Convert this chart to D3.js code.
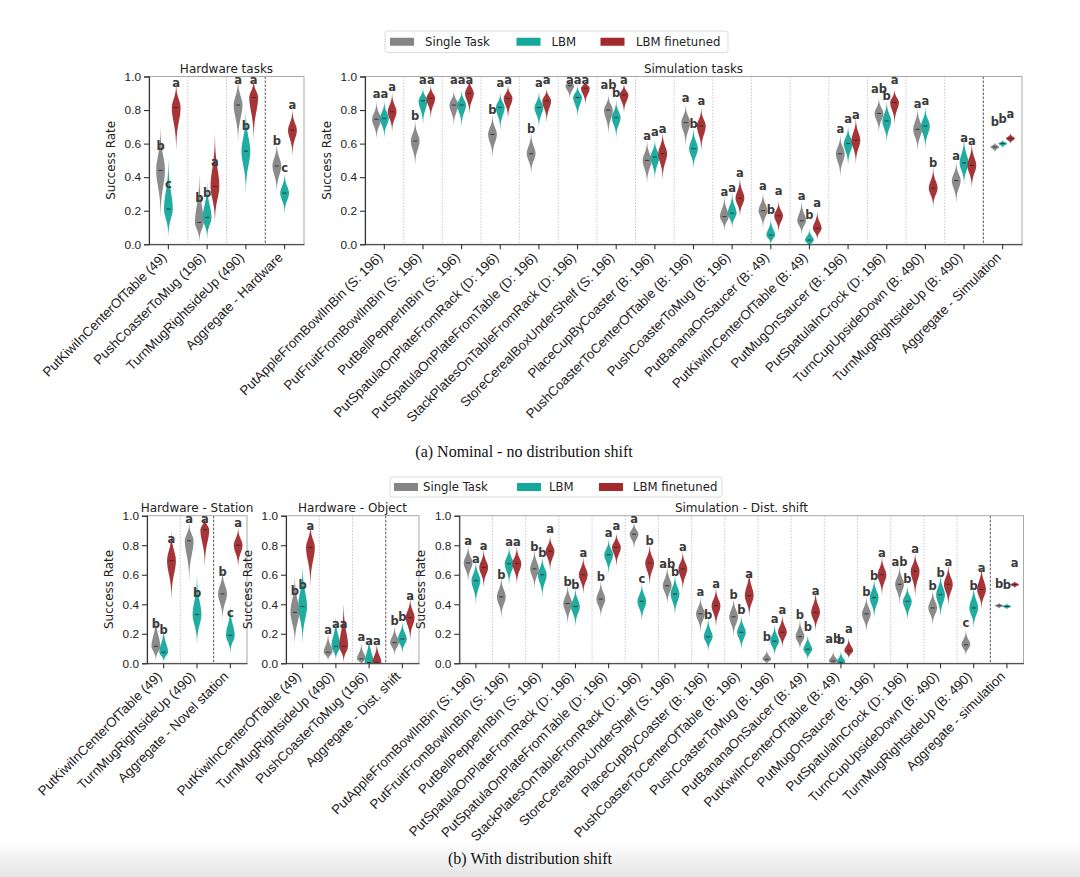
<!DOCTYPE html>
<html>
<head>
<meta charset="utf-8">
<script src="https://cdn.jsdelivr.net/npm/d3@7"></script>
<style>
  body { margin: 0; background: #fff; }
  svg { display: block; font-family: 'DejaVu Sans', sans-serif; }
  .axis .tick text { font-size: 11.8px; fill: #222; }
  .axis .tick text.xlab { font-size: 13.3px; fill: #222; }
  .axis path, .axis line { stroke: #333; stroke-width: 1.1; }
  .ylab { font-size: 11.9px; fill: #222; }
  .ptitle { font-size: 12px; fill: #222; }
  .letter { font-size: 11.5px; font-weight: bold; fill: #3a3a3a; }
  .leg { font-size: 11.7px; fill: #222; }
  .caption { font-family: 'Liberation Serif', serif; font-size: 16px; fill: #111; }
</style>
</head>
<body>
<svg id="chart"></svg>
<script>
const methods = ['Single Task', 'LBM', 'LBM finetuned']
const colors = ['#858585', '#14a89b', '#a2292c']

// (a) nominal - hardware
const nomHwTasks = ['PutKiwiInCenterOfTable (49)', 'PushCoasterToMug (196)', 'TurnMugRightsideUp (490)', 'Aggregate - Hardware']
const nomHwMedian = [[0.44, 0.21, 0.815], [0.13, 0.16, 0.345], [0.83, 0.555, 0.875], [0.467, 0.305, 0.68]]
const nomHwLow = [[0.17, 0.05, 0.57], [0.02, 0.035, 0.135], [0.615, 0.315, 0.63], [0.315, 0.185, 0.535]]
const nomHwHigh = [[0.69, 0.5, 0.955], [0.41, 0.365, 0.65], [0.98, 0.79, 0.98], [0.6, 0.42, 0.8]]
const nomHwLetters = [['b', 'c', 'a'], ['b', 'b', 'a'], ['a', 'b', 'a'], ['b', 'c', 'a']]

// (a) nominal - simulation
const simTasks = ['PutAppleFromBowlInBin (S: 196)', 'PutFruitFromBowlInBin (S: 196)', 'PutBellPepperInBin (S: 196)',
  'PutSpatulaOnPlateFromRack (D: 196)', 'PutSpatulaOnPlateFromTable (D: 196)', 'StackPlatesOnTableFromRack (D: 196)',
  'StoreCerealBoxUnderShelf (S: 196)', 'PlaceCupByCoaster (B: 196)', 'PushCoasterToCenterOfTable (B: 196)',
  'PushCoasterToMug (B: 196)', 'PutBananaOnSaucer (B: 49)', 'PutKiwiInCenterOfTable (B: 49)', 'PutMugOnSaucer (B: 196)',
  'PutSpatulaInCrock (D: 196)', 'TurnCupUpsideDown (B: 490)', 'TurnMugRightsideUp (B: 490)']
const nomSimTasks = simTasks.concat(['Aggregate - Simulation'])
const nomSimMedian = [[0.745, 0.75, 0.79], [0.615, 0.855, 0.87], [0.83, 0.83, 0.9], [0.655, 0.815, 0.87],
  [0.54, 0.815, 0.855], [0.945, 0.875, 0.93], [0.8, 0.755, 0.89], [0.5, 0.52, 0.54], [0.725, 0.57, 0.705],
  [0.165, 0.185, 0.275], [0.2, 0.055, 0.17], [0.14, 0.025, 0.095], [0.54, 0.6, 0.62], [0.78, 0.735, 0.845],
  [0.685, 0.705, 0.335], [0.38, 0.485, 0.47], [0.58, 0.6, 0.63]]
const nomSimLow = [[0.63, 0.64, 0.675], [0.475, 0.715, 0.755], [0.71, 0.705, 0.78], [0.52, 0.685, 0.755],
  [0.425, 0.7, 0.73], [0.87, 0.76, 0.835], [0.66, 0.64, 0.785], [0.365, 0.39, 0.39], [0.59, 0.455, 0.56],
  [0.085, 0.1, 0.17], [0.1, 0.0, 0.075], [0.06, -0.02, 0.03], [0.405, 0.475, 0.485], [0.67, 0.61, 0.72],
  [0.56, 0.575, 0.225], [0.25, 0.36, 0.34], [0.55, 0.575, 0.6]]
const nomSimHigh = [[0.85, 0.85, 0.9], [0.735, 0.93, 0.945], [0.915, 0.915, 0.985], [0.77, 0.9, 0.945],
  [0.665, 0.905, 0.925], [0.98, 0.945, 0.975], [0.89, 0.855, 0.955], [0.615, 0.62, 0.665], [0.83, 0.69, 0.81],
  [0.285, 0.305, 0.395], [0.305, 0.15, 0.255], [0.255, 0.09, 0.195], [0.65, 0.7, 0.75], [0.87, 0.85, 0.92],
  [0.81, 0.815, 0.455], [0.49, 0.63, 0.6], [0.605, 0.62, 0.66]]
const nomSimLetters = [['a', 'a', 'a'], ['b', 'a', 'a'], ['a', 'a', 'a'], ['b', 'a', 'a'], ['b', 'a', 'a'],
  ['a', 'a', 'a'], ['ab', 'b', 'a'], ['a', 'a', 'a'], ['a', 'b', 'a'], ['a', 'a', 'a'], ['a', 'b', 'a'],
  ['a', 'b', 'a'], ['a', 'a', 'a'], ['ab', 'b', 'a'], ['a', 'a', 'b'], ['a', 'a', 'a'], ['b', 'b', 'a']]

// (b) shift - hardware station
const stationTasks = ['PutKiwiInCenterOfTable (49)', 'TurnMugRightsideUp (490)', 'Aggregate - Novel station']
const stationMedian = [[0.115, 0.075, 0.695], [0.83, 0.33, 0.905], [0.47, 0.19, 0.8]]
const stationLow = [[0.02, 0.01, 0.44], [0.565, 0.135, 0.665], [0.3, 0.07, 0.655]]
const stationHigh = [[0.315, 0.235, 0.89], [0.95, 0.59, 0.99], [0.63, 0.385, 0.92]]
const stationLetters = [['b', 'b', 'a'], ['a', 'b', 'a'], ['b', 'c', 'a']]

// (b) shift - hardware object
const objectTasks = ['PutKiwiInCenterOfTable (49)', 'TurnMugRightsideUp (490)', 'PushCoasterToMug (196)', 'Aggregate - Dist. shift']
const objectMedian = [[0.345, 0.385, 0.785], [0.075, 0.115, 0.115], [0.03, 0.005, 0.005], [0.14, 0.165, 0.31]]
const objectLow = [[0.135, 0.145, 0.53], [0.02, 0.025, 0.01], [-0.01, -0.03, -0.03], [0.055, 0.07, 0.16]]
const objectHigh = [[0.59, 0.655, 0.935], [0.2, 0.315, 0.395], [0.135, 0.18, 0.135], [0.25, 0.28, 0.44]]
const objectLetters = [['b', 'b', 'a'], ['a', 'a', 'a'], ['a', 'a', 'a'], ['b', 'b', 'a']]

// (b) shift - simulation
const shiftSimTasks = simTasks.concat(['Aggregate - simulation'])
const shiftSimMedian = [[0.68, 0.56, 0.65], [0.45, 0.675, 0.675], [0.64, 0.6, 0.76], [0.405, 0.385, 0.6],
  [0.435, 0.735, 0.785], [0.875, 0.42, 0.68], [0.525, 0.47, 0.64], [0.335, 0.18, 0.39], [0.315, 0.21, 0.458],
  [0.027, 0.15, 0.21], [0.18, 0.095, 0.345], [0.015, 0.007, 0.085], [0.335, 0.445, 0.6], [0.535, 0.42, 0.625],
  [0.375, 0.465, 0.535], [0.125, 0.375, 0.5], [0.39, 0.385, 0.533]]
const shiftSimLow = [[0.555, 0.405, 0.52], [0.31, 0.535, 0.54], [0.51, 0.45, 0.63], [0.27, 0.255, 0.475],
  [0.315, 0.61, 0.66], [0.78, 0.29, 0.535], [0.405, 0.33, 0.5], [0.215, 0.085, 0.25], [0.185, 0.095, 0.32],
  [-0.005, 0.055, 0.11], [0.095, 0.025, 0.225], [-0.015, -0.015, 0.035], [0.215, 0.31, 0.465], [0.405, 0.295, 0.455],
  [0.26, 0.315, 0.395], [0.055, 0.245, 0.37], [0.37, 0.365, 0.51]]
const shiftSimHigh = [[0.795, 0.69, 0.77], [0.585, 0.79, 0.79], [0.77, 0.72, 0.86], [0.53, 0.51, 0.72],
  [0.56, 0.84, 0.88], [0.955, 0.54, 0.8], [0.655, 0.6, 0.755], [0.445, 0.305, 0.51], [0.44, 0.32, 0.63],
  [0.09, 0.26, 0.325], [0.295, 0.19, 0.485], [0.08, 0.08, 0.17], [0.45, 0.57, 0.72], [0.66, 0.52, 0.745],
  [0.495, 0.6, 0.665], [0.225, 0.52, 0.655], [0.41, 0.405, 0.555]]
const shiftSimLetters = [['a', 'a', 'a'], ['b', 'a', 'a'], ['b', 'b', 'a'], ['b', 'b', 'a'], ['b', 'a', 'a'],
  ['a', 'c', 'b'], ['ab', 'b', 'a'], ['a', 'b', 'a'], ['b', 'b', 'a'], ['b', 'a', 'a'], ['b', 'b', 'a'],
  ['ab', 'b', 'a'], ['b', 'b', 'a'], ['ab', 'b', 'a'], ['b', 'b', 'a'], ['c', 'b', 'a'], ['b', 'b', 'a']]

const svg = d3.select('#chart')
  .attr('width', 1080)
  .attr('height', 877)

const defs = svg.append('defs')

const offsets = [-7.8, 0, 7.8]
const halfW = 4.4

const violinArea = (d, cx, y) => {
  const sLo = Math.max((d.m - d.lo) / 2.9, 0.004)
  const sHi = Math.max((d.hi - d.m) / 2.9, 0.004)
  const dens = v => {
    const z = (v - d.m) / (v < d.m ? sLo : sHi)
    return Math.exp(-0.5 * z * z)
  }
  const pts = d3.range(0, 1.0001, 1 / 48).map(t => d.lo + t * (d.hi - d.lo)).concat([d.m]).sort(d3.ascending)
  return d3.area()
    .x0(v => cx - halfW * dens(v))
    .x1(v => cx + halfW * dens(v))
    .y(v => y(v))
    .curve(d3.curveBasis)(pts)
}

const drawPanel = p => {
  const x = d3.scaleBand().domain(p.tasks).range([p.x0, p.x1])
  const y = d3.scaleLinear().domain([0, 1]).range([p.yBottom, p.yTop])
  const bw = x.bandwidth()
  const g = svg.append('g')

  defs.append('clipPath').attr('id', p.id)
    .append('rect')
    .attr('x', p.x0).attr('y', p.yTop)
    .attr('width', p.x1 - p.x0).attr('height', p.yBottom - p.yTop)

  const last = p.tasks.length - 2
  g.selectAll('blah')
    .data(p.tasks.slice(1))
    .enter()
    .append('line')
    .attr('x1', d => x(d)).attr('x2', d => x(d))
    .attr('y1', p.yTop).attr('y2', p.yBottom)
    .attr('stroke', (d, i) => i === last ? '#555' : '#c4c4c4')
    .attr('stroke-width', (d, i) => i === last ? 1 : 0.9)
    .attr('stroke-dasharray', (d, i) => i === last ? '2.5,1.5' : '1.5,1.5')

  g.append('rect')
    .attr('x', p.x0).attr('y', p.yTop)
    .attr('width', p.x1 - p.x0).attr('height', p.yBottom - p.yTop)
    .attr('fill', 'none')
    .attr('stroke', '#a8a8a8')
    .attr('stroke-width', 1)

  const cells = p.tasks.flatMap((t, i) => methods.map((mm, j) => ({
    t, j, m: p.median[i][j], lo: p.low[i][j], hi: p.high[i][j], letter: p.letters[i][j]
  })))

  const vg = g.append('g').attr('clip-path', `url(#${p.id})`)

  vg.selectAll('blah')
    .data(cells)
    .enter()
    .append('path')
    .attr('d', d => violinArea(d, x(d.t) + bw / 2 + offsets[d.j], y))
    .attr('fill', d => colors[d.j])
    .attr('fill-opacity', 0.95)

  vg.selectAll('blah')
    .data(cells)
    .enter()
    .append('line')
    .attr('x1', d => x(d.t) + bw / 2 + offsets[d.j] - 2)
    .attr('x2', d => x(d.t) + bw / 2 + offsets[d.j] + 2)
    .attr('y1', d => y(d.m)).attr('y2', d => y(d.m))
    .attr('stroke', '#2a2a2a')
    .attr('stroke-width', 0.9)

  g.selectAll('blah')
    .data(cells)
    .enter()
    .append('text')
    .attr('class', 'letter')
    .attr('x', d => x(d.t) + bw / 2 + offsets[d.j])
    .attr('y', d => y(Math.min(d.m + 0.15, 0.98)) + 4.3)
    .style('text-anchor', 'middle')
    .text(d => d.letter)

  g.append('g')
    .attr('class', 'axis')
    .attr('transform', `translate(${p.x0},0)`)
    .call(d3.axisLeft(y).tickValues([0, 0.2, 0.4, 0.6, 0.8, 1]).tickFormat(d3.format('.1f')).tickSize(5).tickPadding(3))

  const xa = g.append('g')
    .attr('class', 'axis')
    .attr('transform', `translate(0,${p.yBottom})`)
    .call(d3.axisBottom(x).tickSize(5).tickSizeOuter(0))
  xa.selectAll('.tick text').remove()
  xa.selectAll('.tick')
    .append('text')
    .attr('class', 'xlab')
    .attr('transform', 'translate(-1,14) rotate(-45)')
    .style('text-anchor', 'end')
    .text(d => d)

  g.append('text')
    .attr('class', 'ylab')
    .attr('transform', `translate(${p.x0 - 34},${(p.yTop + p.yBottom) / 2}) rotate(-90)`)
    .style('text-anchor', 'middle')
    .text('Success Rate')

  g.append('text')
    .attr('class', 'ptitle')
    .attr('x', (p.x0 + p.x1) / 2)
    .attr('y', p.yTop - 4)
    .style('text-anchor', 'middle')
    .text(p.title)
}

const drawLegend = (bx, by, bwid, bh, patchX, textX) => {
  const g = svg.append('g')
  g.append('rect')
    .attr('x', bx).attr('y', by).attr('width', bwid).attr('height', bh)
    .attr('rx', 2.5)
    .attr('fill', '#fff').attr('stroke', '#dcdcdc')
  g.selectAll('blah')
    .data(methods)
    .enter()
    .append('rect')
    .attr('x', (d, i) => patchX[i]).attr('y', by + bh / 2 - 4)
    .attr('width', 24).attr('height', 8)
    .attr('fill', (d, i) => colors[i])
  g.selectAll('blah')
    .data(methods)
    .enter()
    .append('text')
    .attr('class', 'leg')
    .attr('x', (d, i) => textX[i]).attr('y', by + bh / 2 + 4.3)
    .text(d => d)
}

drawLegend(385, 31, 343, 21.5, [390, 516.5, 600.5], [425, 551.5, 636])

drawPanel({ id: 'c1', x0: 149, x1: 304, yTop: 76.5, yBottom: 244.3, title: 'Hardware tasks',
  tasks: nomHwTasks, median: nomHwMedian, low: nomHwLow, high: nomHwHigh, letters: nomHwLetters })
drawPanel({ id: 'c2', x0: 365, x1: 1022, yTop: 76.5, yBottom: 244.3, title: 'Simulation tasks',
  tasks: nomSimTasks, median: nomSimMedian, low: nomSimLow, high: nomSimHigh, letters: nomSimLetters })

svg.append('text')
  .attr('class', 'caption')
  .attr('x', 524).attr('y', 457)
  .style('text-anchor', 'middle')
  .text('(a) Nominal - no distribution shift')

drawLegend(390, 477, 332, 20, [394, 517, 599], [423, 549, 633])

drawPanel({ id: 'c3', x0: 147, x1: 247, yTop: 515.7, yBottom: 663.3, title: 'Hardware - Station',
  tasks: stationTasks, median: stationMedian, low: stationLow, high: stationHigh, letters: stationLetters })
drawPanel({ id: 'c4', x0: 286, x1: 419, yTop: 515.7, yBottom: 663.3, title: 'Hardware - Object',
  tasks: objectTasks, median: objectMedian, low: objectLow, high: objectHigh, letters: objectLetters })
drawPanel({ id: 'c5', x0: 459.3, x1: 1023.5, yTop: 515.7, yBottom: 663.3, title: 'Simulation - Dist. shift',
  tasks: shiftSimTasks, median: shiftSimMedian, low: shiftSimLow, high: shiftSimHigh, letters: shiftSimLetters })

const grad = defs.append('linearGradient').attr('id', 'fade').attr('x1', 0).attr('x2', 0).attr('y1', 0).attr('y2', 1)
grad.append('stop').attr('offset', '0%').attr('stop-color', '#ffffff')
grad.append('stop').attr('offset', '100%').attr('stop-color', '#e4e4e4')
svg.insert('rect', ':first-child')
  .attr('x', 0).attr('y', 842).attr('width', 1080).attr('height', 35)
  .attr('fill', 'url(#fade)')

svg.append('text')
  .attr('class', 'caption')
  .attr('x', 530).attr('y', 864)
  .style('text-anchor', 'middle')
  .text('(b) With distribution shift')
</script>
</body>
</html>
